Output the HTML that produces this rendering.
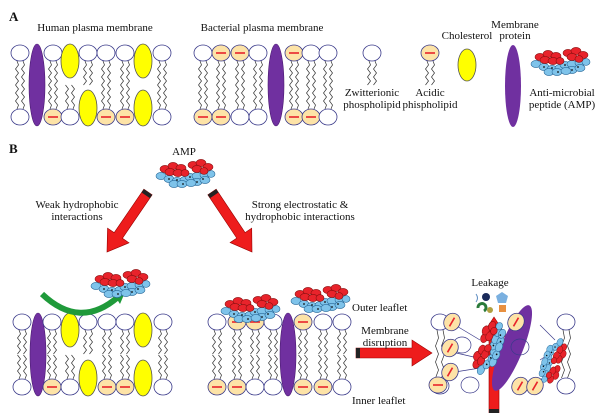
<!DOCTYPE html>
<html><head><meta charset="utf-8"><style>
html,body{margin:0;padding:0;background:#fff;width:600px;height:413px;overflow:hidden}
svg text{font-family:"Liberation Serif",serif;font-size:11px;fill:#111}
</style></head><body>
<svg id="s" width="600" height="413" viewBox="0 0 600 413" xmlns="http://www.w3.org/2000/svg">
<defs>
<g id="amp">
<ellipse cx="6" cy="18" rx="5" ry="3.6" fill="#7ec3ea" stroke="#2a6a9a" stroke-width=".6"/>
<ellipse cx="14" cy="21" rx="5" ry="3.6" fill="#7ec3ea" stroke="#2a6a9a" stroke-width=".6"/>
<ellipse cx="22" cy="23" rx="5" ry="3.6" fill="#7ec3ea" stroke="#2a6a9a" stroke-width=".6"/>
<ellipse cx="30" cy="22" rx="5" ry="3.6" fill="#7ec3ea" stroke="#2a6a9a" stroke-width=".6"/>
<ellipse cx="19" cy="26" rx="5" ry="3.6" fill="#7ec3ea" stroke="#2a6a9a" stroke-width=".6"/>
<ellipse cx="27" cy="26" rx="5" ry="3.6" fill="#7ec3ea" stroke="#2a6a9a" stroke-width=".6"/>
<ellipse cx="35" cy="19" rx="5" ry="3.6" fill="#7ec3ea" stroke="#2a6a9a" stroke-width=".6"/>
<ellipse cx="42" cy="18" rx="5" ry="3.6" fill="#7ec3ea" stroke="#2a6a9a" stroke-width=".6"/>
<ellipse cx="50" cy="17" rx="5" ry="3.6" fill="#7ec3ea" stroke="#2a6a9a" stroke-width=".6"/>
<ellipse cx="56" cy="16" rx="4" ry="3.4" fill="#7ec3ea" stroke="#2a6a9a" stroke-width=".6"/>
<ellipse cx="42" cy="24" rx="5" ry="3.6" fill="#7ec3ea" stroke="#2a6a9a" stroke-width=".6"/>
<ellipse cx="50" cy="22" rx="5" ry="3.6" fill="#7ec3ea" stroke="#2a6a9a" stroke-width=".6"/>
<ellipse cx="36" cy="25" rx="5" ry="3.6" fill="#7ec3ea" stroke="#2a6a9a" stroke-width=".6"/>
<ellipse cx="10" cy="11" rx="5" ry="3.6" fill="#e8232b" stroke="#8a1010" stroke-width=".6"/>
<ellipse cx="18" cy="8" rx="5" ry="3.6" fill="#e8232b" stroke="#8a1010" stroke-width=".6"/>
<ellipse cx="26" cy="10" rx="5" ry="3.6" fill="#e8232b" stroke="#8a1010" stroke-width=".6"/>
<ellipse cx="15" cy="14" rx="5" ry="3.6" fill="#e8232b" stroke="#8a1010" stroke-width=".6"/>
<ellipse cx="23" cy="15" rx="5" ry="3.6" fill="#e8232b" stroke="#8a1010" stroke-width=".6"/>
<ellipse cx="30" cy="15" rx="4" ry="3.4" fill="#e8232b" stroke="#8a1010" stroke-width=".6"/>
<ellipse cx="38" cy="7" rx="5" ry="3.6" fill="#e8232b" stroke="#8a1010" stroke-width=".6"/>
<ellipse cx="46" cy="5" rx="5" ry="3.6" fill="#e8232b" stroke="#8a1010" stroke-width=".6"/>
<ellipse cx="53" cy="9" rx="5" ry="3.6" fill="#e8232b" stroke="#8a1010" stroke-width=".6"/>
<ellipse cx="42" cy="11" rx="5" ry="3.6" fill="#e8232b" stroke="#8a1010" stroke-width=".6"/>
<ellipse cx="49" cy="13" rx="4" ry="3.4" fill="#e8232b" stroke="#8a1010" stroke-width=".6"/>
<g fill="#111"><circle cx="22" cy="22" r=".9"/><circle cx="28" cy="26" r=".9"/><circle cx="35" cy="19" r=".9"/><circle cx="48" cy="21" r=".9"/><circle cx="42" cy="24" r=".9"/><circle cx="14" cy="21" r=".9"/></g>
</g>
</defs>
<g id="m"></g>
<text x="9" y="21" style="font-size:13px;font-weight:bold">A</text>
<text x="95" y="31" text-anchor="middle">Human plasma membrane</text>
<text x="262" y="31" text-anchor="middle">Bacterial plasma membrane</text>
<text x="372" y="96" text-anchor="middle">Zwitterionic</text>
<text x="372" y="108" text-anchor="middle">phospholipid</text>
<text x="430" y="96" text-anchor="middle">Acidic</text>
<text x="430" y="108" text-anchor="middle">phispholipid</text>
<text x="467" y="39" text-anchor="middle">Cholesterol</text>
<text x="515" y="28" text-anchor="middle">Membrane</text>
<text x="515" y="39" text-anchor="middle">protein</text>
<text x="562" y="96" text-anchor="middle">Anti-microbial</text>
<text x="562" y="108" text-anchor="middle">peptide (AMP)</text>
<use href="#amp" x="530" y="46"/>
<text x="9" y="153" style="font-size:13px;font-weight:bold">B</text>
<text x="184" y="155" text-anchor="middle">AMP</text>
<use href="#amp" x="155" y="158"/>
<text x="77" y="208" text-anchor="middle">Weak hydrophobic</text>
<text x="77" y="220" text-anchor="middle">interactions</text>
<text x="300" y="208" text-anchor="middle">Strong electrostatic &amp;</text>
<text x="300" y="220" text-anchor="middle">hydrophobic interactions</text>
<text x="352" y="311">Outer leaflet</text>
<text x="385" y="334" text-anchor="middle">Membrane</text>
<text x="385" y="346" text-anchor="middle">disruption</text>
<text x="352" y="404">Inner leaflet</text>
<text x="490" y="286" text-anchor="middle">Leakage</text>
<use href="#amp" x="90" y="268"/>
<use href="#amp" x="220" y="293"/>
<use href="#amp" x="290" y="283"/>
</svg>
<script>
var s='';
function wavy(x,y1,y2){var d='M'+x+' '+y1,n=6,st=(y2-y1)/n;for(var i=1;i<=n;i++){d+=' L'+(x+(i%2?1.5:-1.5))+' '+(y1+st*i);}return '<path d="'+d+'" fill="none" stroke="#333" stroke-width=".7"/>';}
function head(x,y,a,rot){var r='<g transform="translate('+x+' '+y+') rotate('+(rot||0)+')"><ellipse rx="9" ry="8" fill="'+(a?'#fde3a7':'#fff')+'" stroke="#3a3a8a" stroke-width=".8"/>';if(a)r+='<line x1="-5" y1="0" x2="5" y2="0" stroke="#e8232b" stroke-width="1.6"/>';return r+'</g>';}
function lipid(x,y,a,up){var d=up?1:-1;return wavy(x-3,y+8*d,y+32*d)+wavy(x+3,y+8*d,y+32*d)+head(x,y,a);}
function mem(xs,top,bot,yt,yb){var o='';for(var i=0;i<xs.length;i++){var x=xs[i],t=top[i],b=bot[i];
if(t=='P'){o+='<ellipse cx="'+x+'" cy="'+((yt+yb)/2)+'" rx="8" ry="'+((yb-yt)/2+9)+'" fill="#7030a0" stroke="#4a1a70" stroke-width=".6"/>';continue;}
if(t=='C')o+='<ellipse cx="'+x+'" cy="'+(yt+8)+'" rx="9" ry="17" fill="#ffff00" stroke="#555" stroke-width=".8"/>';else o+=lipid(x,yt,t=='a',true);
if(b=='C')o+='<ellipse cx="'+x+'" cy="'+(yb-9)+'" rx="9" ry="18" fill="#ffff00" stroke="#555" stroke-width=".8"/>';else o+=lipid(x,yb,b=='a',false);}return o;}
s+=mem([20,37,53,70,88,106,125,143,162],'wPwCwwwCw','wPawCaaCw',53,117);
s+=mem([203,221,240,258,276,294,311,328],'waawPaww','aawwPaaw',53,117);
s+=mem([22,38,52,70,88,107,125,143,163],'wPwCwwwCw','wPawCaaCw',322,387);
s+=mem([217,237,255,273,288,303,323,342],'waawPaww','aawwPaaw',322,387);
s+=lipid(372,53,false,true)+lipid(430,53,true,true);
s+='<ellipse cx="467" cy="65" rx="9" ry="16" fill="#ffff00" stroke="#555" stroke-width=".8"/>';
s+='<ellipse cx="513" cy="86" rx="8" ry="41" fill="#7030a0"/>';
function arrow(x1,y1,x2,y2){var dx=x2-x1,dy=y2-y1,L=Math.hypot(dx,dy),a=Math.atan2(dy,dx)*180/Math.PI;
return '<g transform="translate('+x1+' '+y1+') rotate('+a+')"><polygon points="0,-5 '+(L-20)+',-5 '+(L-20)+',-13 '+L+',0 '+(L-20)+',13 '+(L-20)+',5 0,5" fill="#ee1c1c" stroke="#900" stroke-width=".6"/><rect x="0" y="-5" width="4" height="10" fill="#222"/></g>';}
s+=arrow(148,192,107,252)+arrow(212,192,252,252)+arrow(356,353,432,353)+arrow(494,413,494,317);
s+='<path d="M42 294 Q80 330 118 297" fill="none" stroke="#1f9a3a" stroke-width="6"/><polygon points="111,290 126,290 120,304" fill="#1f9a3a"/>';
// disrupted region
s+=wavy(437,330,378)+wavy(443,330,378)+head(440,322,false)+head(440,386,false);
s+=wavy(563,330,378)+wavy(569,330,378)+head(566,322,false)+head(566,386,false);
s+='<ellipse cx="512" cy="348" rx="11" ry="46" transform="rotate(22 512 348)" fill="#7030a0"/>';
s+='<g fill="none" stroke="#3a3a8a" stroke-width=".7"><ellipse cx="462" cy="345" rx="9" ry="8"/><ellipse cx="470" cy="385" rx="9" ry="8"/><ellipse cx="520" cy="347" rx="9" ry="8"/><path d="M455 325 L480 340 M452 352 L478 358 M455 372 L480 368 M540 325 L555 340 M540 360 L555 350 M540 380 L555 370"/></g>';
s+=head(452,322,true,-60)+head(450,348,true,-60)+head(450,372,true,-60)+head(438,385,true,0)+head(516,322,true,-60)+head(520,386,true,-60)+head(535,386,true,-60);
s+='<g transform="translate(463 368) rotate(-65) scale(.95)"><use href="#amp"/></g>';
s+='<g transform="translate(575 344) rotate(115) scale(.8)"><use href="#amp"/></g>';
s+='<path d="M476 302 q3 -4 0 -8" stroke="#5a8ac0" fill="none"/><circle cx="486" cy="297" r="4" fill="#1a2a5a"/><polygon points="496,296 502,292 508,296 506,303 498,303" fill="#7ab0e0"/><path d="M478 308 a4 4 0 1 1 6 3" stroke="#2a7a3a" stroke-width="3" fill="none"/><circle cx="490" cy="310" r="3" fill="#b0a040"/><rect x="499" y="305" width="7" height="7" fill="#e89040"/>';
document.getElementById('m').innerHTML=s;
</script>
</body></html>
